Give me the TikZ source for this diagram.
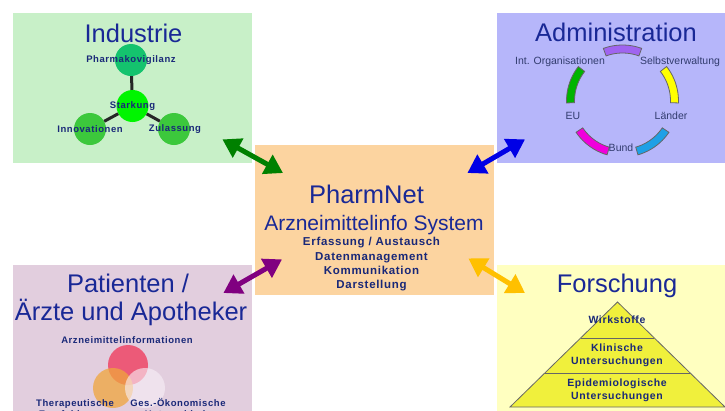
\documentclass[tikz,border=0pt]{standalone}
\usepackage{fontspec}
\setmainfont{Liberation Sans}
\newfontfamily\spaced{Liberation Sans}[LetterSpace=6]
\usepackage{tikz}
\usetikzlibrary{arrows.meta,positioning,calc}
\definecolor{titleblue}{RGB}{25,40,150}
\definecolor{textblue}{RGB}{25,40,120}
\definecolor{admtext}{RGB}{50,60,110}
\definecolor{indbox}{RGB}{200,240,200}
\definecolor{admbox}{RGB}{182,182,250}
\definecolor{pnbox}{RGB}{252,212,160}
\definecolor{patbox}{RGB}{226,206,222}
\definecolor{fobox}{RGB}{255,255,192}
\definecolor{pvgreen}{RGB}{20,195,110}
\definecolor{stgreen}{RGB}{0,245,0}
\definecolor{ingreen}{RGB}{60,200,60}
\definecolor{segpurple}{RGB}{160,100,240}
\definecolor{segyellow}{RGB}{255,255,0}
\definecolor{segblue}{RGB}{30,160,230}
\definecolor{segmagenta}{RGB}{240,0,220}
\definecolor{seggreen}{RGB}{0,180,0}
\definecolor{vred}{RGB}{236,90,120}
\definecolor{vorange}{RGB}{240,165,60}
\definecolor{vwhite}{RGB}{248,240,248}
\definecolor{pyryellow}{RGB}{240,240,60}
\definecolor{arrgreen}{RGB}{0,128,0}
\definecolor{arrblue}{RGB}{0,0,230}
\definecolor{arrpurple}{RGB}{128,0,128}
\definecolor{arryellow}{RGB}{255,192,0}

\begin{document}
\begin{tikzpicture}[x=1pt,y=-1pt,
    box/.style={draw=none,inner sep=0pt,anchor=north west,minimum width=239pt,minimum height=150pt},
    head/.style={text=titleblue,font=\fontsize{25.5}{28}\selectfont,inner sep=0pt,anchor=base},
    small/.style={text=textblue,font=\spaced\bfseries\fontsize{9.5}{11}\selectfont,inner sep=0pt},
    body/.style={text=textblue,font=\spaced\bfseries\fontsize{11.5}{14.33}\selectfont,inner sep=0pt,align=center},
    pyr/.style={text=textblue,font=\spaced\bfseries\fontsize{10.5}{13}\selectfont,inner sep=0pt,align=center},
    adlbl/.style={text=admtext,font=\fontsize{10.5}{12}\selectfont,inner sep=0pt},
    blob/.style={circle,minimum size=32pt,inner sep=0pt},
    stem/.style={draw=black!85,line width=3pt},
    dblarrow/.style={line width=5pt,<->,>={Triangle[length=18pt,width=21pt]}},
    venn/.style={circle,minimum size=40pt,inner sep=0pt}]
    \useasboundingbox (0,0) rectangle (725,410);

    % boxes
    \node[box,fill=indbox] (ind) at (13,13) {};
    \node[box,fill=admbox] (adm) at (497,13) {};
    \node[box,fill=pnbox] (pn) at (255,145) {};
    \node[box,fill=patbox] (pat) at (13,265) {};
    \node[box,fill=fobox] (fo) at (497,265) {};

    % arrows
    \draw[dblarrow,arrgreen] ([shift={(-30,-24)}]ind.south east) -- ([shift={(28,28)}]pn.north west);
    \draw[dblarrow,arrblue] ([shift={(28,-24)}]adm.south west) -- ([shift={(-27,28)}]pn.north east);
    \draw[dblarrow,arrpurple] ([shift={(-29,28)}]pat.north east) -- ([shift={(27,-36)}]pn.south west);
    \draw[dblarrow,arryellow] ([shift={(28,28)}]fo.north west) -- ([shift={(-26,-37)}]pn.south east);

    % PharmNet
    \node[head] (pnT) at (366.5,203) {PharmNet};
    \node[head,font=\fontsize{21}{24}\selectfont] (pnS) at (374,230) {Arzneimittelinfo System};
    \node[body] (pnB) at (371.5,264.5) {Erfassung / Austausch\\Datenmanagement\\Kommunikation\\Darstellung};

    % Industrie
    \node[head] (indT) at (133.5,42) {Industrie};
    \node[blob,fill=pvgreen] (pv) at (131,60) {};
    \node[blob,fill=stgreen] (st) at (132.5,106) {};
    \node[blob,fill=ingreen] (inn) at (90,129) {};
    \node[blob,fill=ingreen] (zu) at (174,129) {};
    \draw[stem] (st) -- (pv);
    \draw[stem] (st) -- (inn);
    \draw[stem] (st) -- (zu);
    \node[small] (pvT) at (pv) {Pharmakovigilanz};
    \node[small] (stT) at (st) {Starkung};
    \node[small] (innT) at (inn) {Innovationen};
    \node[small] (zuT) at ([xshift=1pt]zu) {Zulassung};

    % Administration
    \node[head] (admT) at (616,41) {Administration};
    \foreach \a/\c in {90/segpurple,18/segyellow,-54/segblue,-126/segmagenta,162/seggreen}
        \filldraw[draw=black!60,line width=0.8pt,fill=\c]
            plot[domain=\a-20:\a+20,samples=12] ({622.5+56*cos(\x)},{101-56*sin(\x)})
            -- plot[domain=\a+20:\a-20,samples=12] ({622.5+48*cos(\x)},{101-48*sin(\x)}) -- cycle;
    \node[adlbl] (io) at (560,62) {Int. Organisationen};
    \node[adlbl] (sv) at (680,62) {Selbstverwaltung};
    \node[adlbl] (eu) at (573,116) {EU};
    \node[adlbl] (la) at (671,116) {Länder};
    \node[adlbl] (bu) at (621,148) {Bund};

    % Patienten
    \node[head] (patT) at (128,292) {Patienten /};
    \node[head] (patU) at (131,320) {Ärzte und Apotheker};
    \node[small] (ai) at (127,340) {Arzneimittelinformationen};
    \node[venn,fill=vred] (vr) at (128,365) {};
    \node[venn,fill=vorange,opacity=0.75] (vo) at (113,388) {};
    \node[venn,fill=vwhite,opacity=0.6] (vw) at (145,388) {};
    \node[small,anchor=base] (te) at (75,406) {Therapeutische};
    \node[small,anchor=base] (go) at (178,406) {Ges.-Ökonomische};
    \node[small,anchor=base] (em) at (75,417.5) {Empfehlungen};
    \node[small,anchor=base] (un) at (178,417.5) {Unterschiede};

    % Forschung
    \node[head] (foT) at (617,292) {Forschung};
    \coordinate (top) at (617.5,302);
    \coordinate (bl) at (510,407);
    \coordinate (br) at (725,407);
    \filldraw[draw=black!60,fill=pyryellow,line width=0.8pt] (top) -- (bl) -- (br) -- cycle;
    \draw[black!60,line width=0.8pt] ($(top)!0.343!(bl)$) -- ($(top)!0.343!(br)$);
    \draw[black!60,line width=0.8pt] ($(top)!0.676!(bl)$) -- ($(top)!0.676!(br)$);
    \node[pyr] (wi) at (617,320) {Wirkstoffe};
    \node[pyr] (kl) at (617,355.5) {Klinische\\Untersuchungen};
    \node[pyr] (ep) at (617,390.5) {Epidemiologische\\Untersuchungen};
\end{tikzpicture}
\end{document}
